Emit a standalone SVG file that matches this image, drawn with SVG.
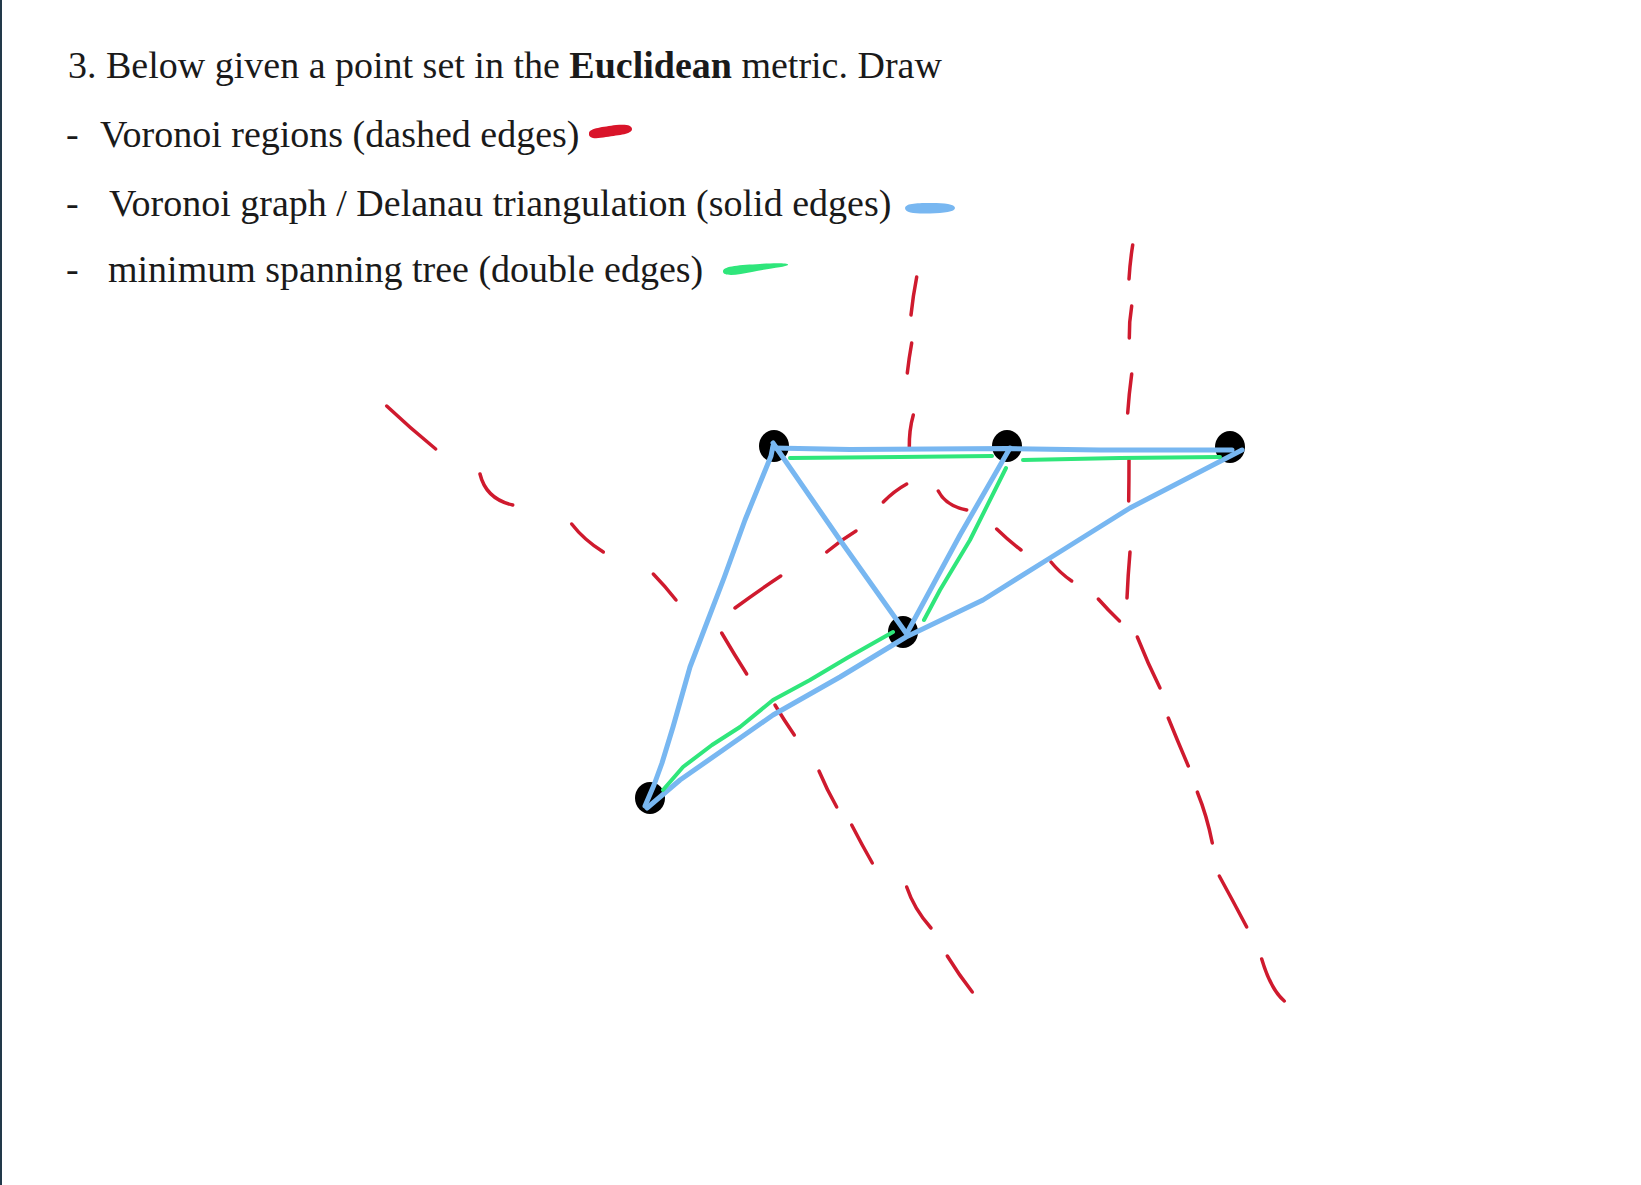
<svg xmlns="http://www.w3.org/2000/svg" width="1641" height="1185" viewBox="0 0 1641 1185">
<style>
.t{font-family:"Liberation Serif","Times New Roman",serif;font-size:38px;fill:#1a1a1a}
.b{stroke:#78b7f1;stroke-width:5;fill:none;stroke-linecap:round;stroke-linejoin:round}
.g{stroke:#2fe67b;stroke-width:4;fill:none;stroke-linecap:round;stroke-linejoin:round}
.r{stroke:#cf1a2e;stroke-width:3.5;fill:none;stroke-linecap:round}
.n{fill:#000}
</style>
<rect x="0" y="0" width="1641" height="1185" fill="#ffffff"/>
<rect x="0" y="0" width="2" height="1185" fill="#22394a"/>
<g id="text">
<text class="t" x="68" y="78">3. Below given a point set in the <tspan font-weight="bold">Euclidean</tspan> metric. Draw</text>
<text class="t" x="66" y="147">-</text>
<text class="t" x="100" y="147">Voronoi regions (dashed edges)</text>
<text class="t" x="66" y="216">-</text>
<text class="t" x="109" y="216">Voronoi graph / Delanau triangulation (solid edges)</text>
<text class="t" x="66" y="282">-</text>
<text class="t" x="108" y="282">minimum spanning tree (double edges)</text>
</g>
<g id="legend">
<path d="M589,133 C590,128 603,127 616,125 C626,124 632,125 632,129 C632,134 620,135 606,137 C596,139 588,139 589,133 Z" fill="#d9142a"/>
<path d="M905,208 C906,203 918,203 932,203 C944,203 955,204 955,208 C955,212 944,213 930,213.5 C916,214 905,213 905,208 Z" fill="#78b7f1"/>
<path d="M723,271 C724,266 740,265 760,264 C775,263 789,263 788,265 C786,267 770,268 752,272 C738,275 722,277 723,271 Z" fill="#2fe67b"/>
</g>
<g id="node-a"><ellipse class="n" cx="774" cy="446" rx="15" ry="16"/></g>
<g id="node-b"><ellipse class="n" cx="1007" cy="446" rx="15" ry="16"/></g>
<g id="node-c"><ellipse class="n" cx="1230" cy="447" rx="15" ry="16"/></g>
<g id="node-d"><ellipse class="n" cx="903" cy="632" rx="15" ry="16"/></g>
<g id="node-e"><ellipse class="n" cx="650" cy="798" rx="15" ry="16"/></g>
<g id="connectors">
<g id="voronoi-regions">
<path class="r" d="M916.7,277 Q913,296 911,315"/>
<path class="r" d="M911.7,343 Q909,358 907.3,373"/>
<path class="r" d="M913.3,415 Q909,430 909.3,448"/>
<path class="r" d="M1132.7,245 Q1130,262 1129,279"/>
<path class="r" d="M1131.7,306 Q1129,322 1129.3,338"/>
<path class="r" d="M1131.7,374 Q1129,394 1127.7,413"/>
<path class="r" d="M1129,460 Q1129,480 1128.7,501"/>
<path class="r" d="M1130,552 Q1128,575 1127,598"/>
<path class="r" d="M386.7,406 Q410,428 435.7,449"/>
<path class="r" d="M480,474 Q486,499 512.7,505"/>
<path class="r" d="M571.7,524 Q584,540 603.3,552"/>
<path class="r" d="M653.3,574 Q665,586 676,600"/>
<path class="r" d="M721.7,633 Q734,654 746.7,674"/>
<path class="r" d="M775,705 Q784,720 794.3,735"/>
<path class="r" d="M819,771 Q827,790 836.7,807"/>
<path class="r" d="M851.7,825 Q862,845 872.3,863"/>
<path class="r" d="M906.7,887 Q914,909 931,928"/>
<path class="r" d="M947.3,956 Q959,975 972.3,992"/>
<path class="r" d="M735,608 Q758,591 780.7,576"/>
<path class="r" d="M826.7,552 Q841,540 856,531"/>
<path class="r" d="M883.3,502 Q894,491 906.7,484"/>
<path class="r" d="M938.3,491 Q946,506 966.7,510"/>
<path class="r" d="M996.7,529 Q1008,540 1021,550"/>
<path class="r" d="M1051,562 Q1060,573 1071.7,581"/>
<path class="r" d="M1098.3,599 Q1108,610 1119.5,621"/>
<path class="r" d="M1137.3,637 Q1148,664 1160,688"/>
<path class="r" d="M1168.3,718 Q1178,742 1188.3,766"/>
<path class="r" d="M1197.3,792 Q1207,816 1212.3,843"/>
<path class="r" d="M1219.3,876 Q1233,901 1246.7,927"/>
<path class="r" d="M1261.7,959 Q1271,990 1284.3,1001"/>
</g>
<g id="delaunay">
<path class="b" d="M773,448 L850,449.5 L930,449 L1007,448.5 L1100,450 L1232,450"/>
<path class="b" d="M773,446 L771,456 L745,520 L724,578 L706,625 L690,667 L673,727 L662,763 L654,785 L645,806"/>
<path class="b" d="M773,443 L840,540 L906,633"/>
<path class="b" d="M1010,448 L960,535 L907,633"/>
<path class="b" d="M647,808 L680,780 L723,750 L773,715 L840,677 L906,637 L983,600 L1050,558 L1130,508 L1242,450"/>
</g>
<g id="mst">
<path class="g" d="M790,458 L900,457 L992,456"/>
<path class="g" d="M1023,460 L1120,458 L1220,457"/>
<path class="g" d="M1006,468 L970,540 L940,590 L924,620"/>
<path class="g" d="M663,790 L683,767 L712,745 L740,727 L773,700 L810,680 L847,658 L893,632"/>
</g>
</g>
</svg>
